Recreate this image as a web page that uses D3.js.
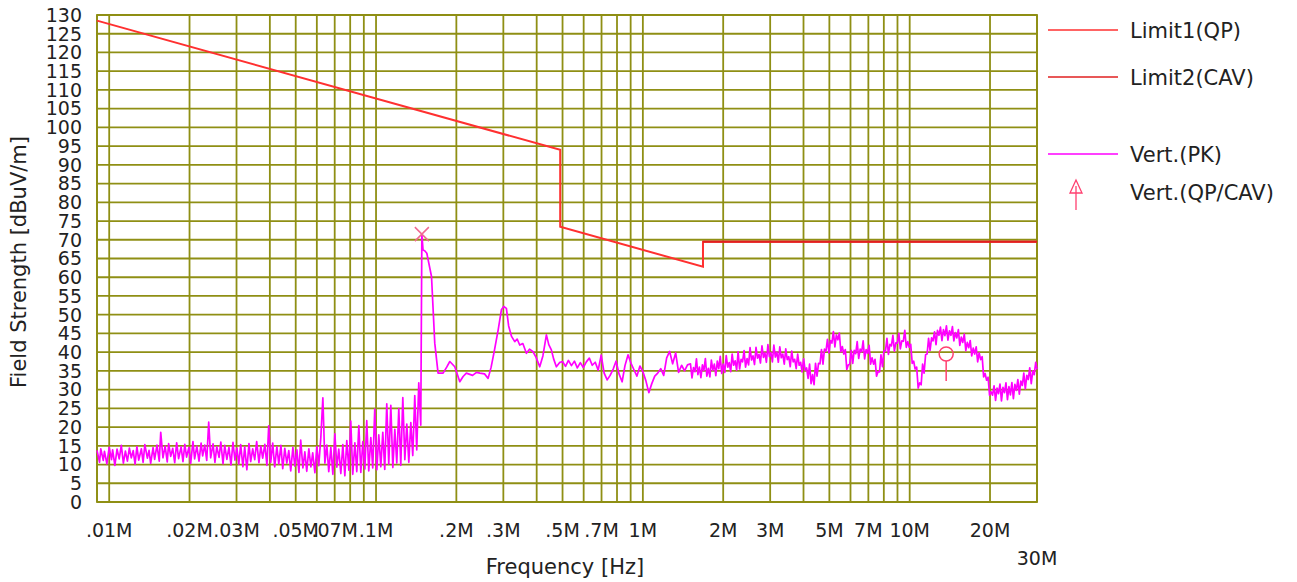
<!doctype html>
<html>
<head>
<meta charset="utf-8">
<style>
body { margin: 0; background: #fff; }
text { font-family: "DejaVu Sans", Verdana, sans-serif; fill: #222; }
</style>
<script src="https://d3js.org/d3.v7.min.js"></script>
</head>
<body>
<svg width="1297" height="582"></svg>
<script>
// frequencies in kHz, levels in dBuV/m
var xTickVals = [10, 20, 30, 50, 70, 100, 200, 300, 500, 700, 1000, 2000, 3000, 5000, 7000, 10000, 20000, 30000];
var xTickLabels = [".01M", ".02M", ".03M", ".05M", ".07M", ".1M", ".2M", ".3M", ".5M", ".7M", "1M", "2M", "3M", "5M", "7M", "10M", "20M", "30M"];
var yTicks = [0, 5, 10, 15, 20, 25, 30, 35, 40, 45, 50, 55, 60, 65, 70, 75, 80, 85, 90, 95, 100, 105, 110, 115, 120, 125, 130];

var limit1 = [[9, 128.5], [490, 94], [490, 73.5], [1680, 62.8], [1680, 69.5], [30000, 69.5]];
var limit2 = [[1680, 69.5], [30000, 69.5]];

var pkTrace = [
[9,13.8],[9.2,10.6],[9.3,14.2],[9.5,11.1],[9.6,13.5],[9.8,10.2],[10,14.6],[10.2,11.3],[10.3,13.9],[10.5,9.8],
[10.7,14.1],[10.9,11.5],[11.1,15.1],[11.3,10.4],[11.5,13.6],[11.7,10.9],[11.9,14.4],[12.1,11.8],[12.3,13.7],[12.5,10.1],
[12.7,14.8],[12.9,11.2],[13.2,14.2],[13.4,10.6],[13.6,15.3],[13.9,11.7],[14.1,13.8],[14.3,10.3],[14.6,14.5],[14.8,11.4],
[15.1,15.2],[15.4,10.9],[15.6,18.6],[15.9,11.8],[16.2,14.9],[16.5,10.7],[16.7,15.6],[17,12.2],[17.3,14.3],[17.6,10.5],
[17.9,15.8],[18.2,11.6],[18.6,14.7],[18.9,10.8],[19.2,15.4],[19.5,12],[19.9,14.6],[20.2,10.3],[20.6,16.1],[20.9,11.5],
[21.3,14.9],[21.7,10.9],[22.1,15.7],[22.4,12.3],[22.8,15.2],[23.2,11.1],[23.6,21.3],[24,11.8],[24.5,15.5],[24.9,10.6],
[25.3,14.8],[25.8,11.9],[26.2,16],[26.7,10.2],[27.1,15.1],[27.6,11.4],[28.1,14.6],[28.6,9.9],[29.1,15.9],[29.6,11.2],
[30.1,14.4],[30.6,10.1],[31.1,15.3],[31.7,9.4],[32.2,14.7],[32.8,8.6],[33.4,15.6],[33.9,10.8],[34.5,14.2],[35.1,11.3],
[35.7,16.1],[36.4,10.5],[37,14.9],[37.6,11.7],[38.3,15.4],[39,9.8],[39.6,20.3],[40.3,10.6],[41,15.7],[41.7,9.4],
[42.5,14.8],[43.2,10.2],[44,15.1],[44.7,8.9],[45.5,14.3],[46.3,10.4],[47.1,13.7],[47.9,8.3],[48.8,14.6],[49.6,9.6],
[50.5,13.9],[51.4,7.9],[52.2,16.5],[53.2,9.1],[54.1,13.4],[55,8.2],[56,14.2],[57,9.4],[57.9,13.1],[59,7.8],
[60,14.8],[61,9.7],[62.1,17.2],[63.2,27.8],[64.3,10.4],[65.4,15.2],[66.5,8.1],[67.7,14.6],[68.9,7.4],[70.1,18.2],
[71.3,9.3],[72.5,14.1],[73.8,7.6],[75.1,15.3],[76.4,7],[77.7,16.4],[79.1,8.5],[80.4,21.6],[81.8,7.4],[83.3,15.8],
[84.7,8.1],[86.2,20.4],[87.7,7.9],[89.2,16.1],[90.8,8.8],[92.3,21.7],[93.9,8.3],[95.6,17.2],[97.2,9.1],[98.9,24.8],
[100.7,8.6],[102.4,17.9],[104.2,9.4],[106,18.6],[107.8,8.7],[109.7,26.2],[111.6,10.1],[113.6,25.8],[115.6,9.2],[117.6,19.4],
[119.6,10.4],[121.7,24.9],[123.8,9.8],[126,27.9],[128.2,11.3],[130.4,20.8],[132.7,10.6],[135,21.2],[137.3,12.4],[139.7,28.4],
[142.1,13.9],[144.6,31.8],[147.1,20.5],
[148.5,71.5],[150,67.3],[152.5,67],[155,66.4],[161.4,60.2],[166,42.4],[170.8,34.4],[178.4,34.4],[184,36],[189,37.5],
[197.3,36.1],[206,32.1],[212,33.5],[218,34.4],[230,33.8],[238,34.6],[245,34.4],[255,34.2],[263,33],[270,36],
[278,40.6],[287,46],[295,51.3],[301,52.2],[308,51.7],[314,47],[322,44.2],[331,42.8],[338,43.5],[345.5,41.9],
[355,42.3],[366,39.7],[376,40.8],[387.5,40.1],[398,38.6],[410.6,36.1],[422,39],[435,44.6],[444,42],[454,40.6],
[463,38.2],[474,36.1],[487,37.2],
[500,37.5],[513,36.2],[526,37.8],[540,36.4],[554,37.6],[568,35.8],[583,37.2],[598,35.9],[614,37.4],[630,38.4],
[646,36.5],[663,37.3],[680,35.2],[698,39.2],[716,34.4],[735,32.6],[754,33.8],[774,35.5],[794,37.6],[814,34.2],
[836,32.1],[857,36.4],[880,39.3],[903,37],[926,35.3],[950,33.6],[975,36.3],[1000,34.8],[1026,32.4],[1053,29.2],
[1080,31.6],[1108,33.6],[1137,34.4],[1167,35.6],[1197,33.8],[1228,38.5],[1260,40.2],[1293,36.9],[1327,39.8],[1361,34.6],
[1397,36.5],[1433,35],[1470,36.6],
[1508,36.9],[1528,33.1],[1548,35.9],[1568,34.8],[1588,38.2],[1608,34],[1629,36],[1650,33.2],[1672,36.6],[1693,35.1],
[1715,38.3],[1737,33.6],[1760,35.7],[1783,33.4],[1806,37.9],[1829,35.2],[1853,36.8],[1877,33.7],[1901,37.6],[1925,35.6],
[1950,38.9],[1975,34.3],[2001,36.8],[2027,34.6],[2053,39.1],[2080,36],[2107,37.2],[2134,34.8],[2161,39.5],[2189,36.5],
[2218,37.7],[2246,35.2],[2275,40.1],[2304,35.5],[2334,38.1],[2364,37.4],[2395,40.4],[2426,36],[2458,38.3],[2490,36.6],
[2522,41.2],[2554,37.9],[2587,39],[2621,36.7],[2655,41.3],[2689,38.4],[2724,39.4],[2759,37.1],[2795,41.7],[2831,38.6],
[2867,39.8],[2904,37.3],[2942,42],[2980,38.8],[3019,39.9],[3058,37.4],[3097,41.9],[3137,38.7],[3178,40],[3219,37.3],
[3260,41.4],[3302,38.5],[3345,39.5],[3388,36.8],[3432,40.9],[3477,38],[3522,38.8],[3567,36.1],[3613,40.3],[3660,37.4],
[3707,38.1],[3755,35.6],[3804,39.5],[3853,36.5],[3903,37.3],[3953,34.7],[4004,38.2],[4056,35.2],[4108,35.8],[4161,33],
[4215,36.8],[4270,31.6],[4325,34],[4381,31.3],[4437,37],[4495,33.6],[4553,37],[4612,36.9],[4671,40.7],[4732,36.8],
[4793,40.8],[4855,40.3],[4917,43.4],[4981,39.8],[5045,43.1],[5110,42.4],[5177,45.5],[5244,41.4],[5311,44.6],[5380,43.3],
[5449,45.1],[5520,40.1],[5591,41.5],[5664,39.5],[5737,40.7],[5811,35.4],[5886,36.6],[5962,36.8],[6039,40.5],[6117,37],
[6196,40.5],[6276,39.6],[6357,42.8],[6439,38.3],[6522,40.8],[6607,40.1],[6692,43],[6779,38.2],[6866,40.7],[6955,39.7],
[7045,41.8],[7136,36.8],[7228,38.5],[7322,36.8],[7416,38.1],[7512,33.6],[7609,34.8],[7707,34.7],[7806,39.3],[7907,36.1],
[8009,40.4],[8113,40.3],[8218,43.7],[8324,39.4],[8431,42.1],[8541,41.7],[8651,44.5],[8763,40.3],[8876,42.5],[8991,42.4],
[9107,45],[9225,40.9],[9343,43],[9464,42.9],[9586,45.8],[9711,41.3],[9836,42.8],[9962,41.3],[10090,42.1],[10220,37],
[10350,37.6],[10480,35.5],[10620,36],[10760,30.4],[10900,31.8],[11040,31.3],[11180,36.8],[11320,34.4],[11470,39.3],[11620,39.5],
[11770,43.7],[11920,40.5],[12080,43.8],[12230,43],[12390,45.4],[12550,42],[12710,45.8],[12870,44.5],[13040,46.7],[13210,43.1],
[13380,46],[13550,44.4],[13730,47],[13910,43.2],[14090,45.7],[14270,44.5],[14460,46.8],[14640,43],[14830,45.2],[15020,43.8],
[15220,46],[15410,41.8],[15610,44],[15810,42.6],[16020,44.8],[16230,40.4],[16440,42.6],[16650,41.2],[16860,43.1],[17080,39],
[17300,41.1],[17520,39.5],[17750,41.4],[17980,37.4],[18210,39.8],[18450,38],[18690,38.8],[18930,33.4],[19170,34.3],[19420,32.5],
[19670,33.3],[19920,28.5],[20180,29.4],[20440,28.5],[20710,31],[20980,27.1],[21250,30.4],[21520,28.9],[21800,31.5],[22080,27],
[22370,30.6],[22660,29.2],[22950,31.8],[23250,27.3],[23550,30.8],[23850,28.6],[24160,31.9],[24470,27.6],[24790,31.4],[25110,29.8],
[25430,32.7],[25760,28.8],[26090,32.3],[26430,31.1],[26770,34.4],[27120,30.2],[27470,33.8],[27820,32.7],[28180,35.8],[28550,31.6],
[28920,35],[29290,34],[29670,37.3],[30000,35.4]
];

var peakMark = [148.5, 71.5];
// QP/CAV final measurement: frequency, QP level, CAV level
var finalMark = [13700, 39.5, 32.3];

var legendNames = ["Limit1(QP)", "Limit2(CAV)", "Vert.(PK)", "Vert.(QP/CAV)"];
var legendColors = ["#ff3030", "#e02020", "#ff00ff", "#ff4070"];

var svg = d3.select("svg");
var gridColor = "#8f8f14";

var x = d3.scaleLog().domain([9, 30000]).range([97, 1037]);
var y = d3.scaleLinear().domain([0, 130]).range([502, 15]);

// grid
svg.append("g").selectAll("line").data(x.ticks()).enter().append("line")
	.attr("x1", function(d) { return x(d); }).attr("x2", function(d) { return x(d); })
	.attr("y1", y(0)).attr("y2", y(130))
	.attr("stroke", gridColor).attr("stroke-width", 1.8);
svg.append("g").selectAll("line").data(yTicks).enter().append("line")
	.attr("x1", x(9)).attr("x2", x(30000))
	.attr("y1", function(d) { return y(d); }).attr("y2", function(d) { return y(d); })
	.attr("stroke", gridColor).attr("stroke-width", 1.8);
svg.append("rect").attr("x", x(9)).attr("y", y(130))
	.attr("width", x(30000) - x(9)).attr("height", y(0) - y(130))
	.attr("fill", "none").attr("stroke", gridColor).attr("stroke-width", 1.8);

// tick labels
svg.append("g").selectAll("text").data(yTicks).enter().append("text")
	.attr("x", 82).attr("y", function(d) { return y(d); }).attr("dy", "0.36em")
	.attr("text-anchor", "end").attr("font-size", "19px")
	.text(function(d) { return d; });
svg.append("g").selectAll("text").data(xTickVals).enter().append("text")
	.attr("x", function(d) { return x(d); })
	.attr("y", function(d, i) { return i == xTickVals.length - 1 ? 565 : 537; })
	.attr("text-anchor", "middle").attr("font-size", "19px")
	.text(function(d, i) { return xTickLabels[i]; });

svg.append("text").attr("x", 565).attr("y", 574).attr("text-anchor", "middle")
	.attr("font-size", "21px").text("Frequency [Hz]");
svg.append("text").attr("transform", "translate(26,262) rotate(-90)").attr("text-anchor", "middle")
	.attr("font-size", "21px").text("Field Strength [dBuV/m]");

var line = d3.line().x(function(d) { return x(d[0]); }).y(function(d) { return y(d[1]); });

svg.append("path").datum(pkTrace).attr("d", line)
	.attr("fill", "none").attr("stroke", legendColors[2]).attr("stroke-width", 1.7)
	.attr("stroke-linejoin", "round");
svg.append("path").datum(limit1).attr("d", line)
	.attr("fill", "none").attr("stroke", legendColors[0]).attr("stroke-width", 2);
svg.append("path").datum(limit2).attr("d", line)
	.attr("fill", "none").attr("stroke", legendColors[1]).attr("stroke-width", 2);

// peak marker (x)
var px = x(peakMark[0]), py = y(peakMark[1]);
svg.append("path").attr("d", "M" + (px - 7) + "," + (py - 7) + "L" + (px + 7) + "," + (py + 7)
	+ "M" + (px + 7) + "," + (py - 7) + "L" + (px - 7) + "," + (py + 7))
	.attr("stroke", "#f06890").attr("stroke-width", 1.5).attr("fill", "none");

// final QP/CAV marker
var fx = x(finalMark[0]);
svg.append("circle").attr("cx", fx).attr("cy", y(finalMark[1])).attr("r", 7)
	.attr("fill", "none").attr("stroke", legendColors[3]).attr("stroke-width", 1.5);
svg.append("line").attr("x1", fx).attr("x2", fx)
	.attr("y1", y(finalMark[1]) + 7).attr("y2", y(finalMark[2]))
	.attr("stroke", legendColors[3]).attr("stroke-width", 1.5);

// legend
var legendY = [30, 77, 154, 192];
var lg = svg.append("g").selectAll("g").data(legendNames).enter().append("g")
	.attr("transform", function(d, i) { return "translate(0," + legendY[i] + ")"; });
lg.filter(function(d, i) { return i < 3; }).append("line")
	.attr("x1", 1048).attr("x2", 1118).attr("y1", 0).attr("y2", 0)
	.attr("stroke", function(d, i) { return legendColors[i]; }).attr("stroke-width", 1.5);
lg.filter(function(d, i) { return i == 3; }).append("path")
	.attr("d", "M1076,-12L1070,1L1082,1ZM1076,-6L1076,18")
	.attr("fill", "none").attr("stroke", legendColors[3]).attr("stroke-width", 1.3);
lg.append("text").attr("x", 1130).attr("y", 0).attr("dy", "0.36em")
	.attr("font-size", "21px").text(function(d) { return d; });
</script>
</body>
</html>
